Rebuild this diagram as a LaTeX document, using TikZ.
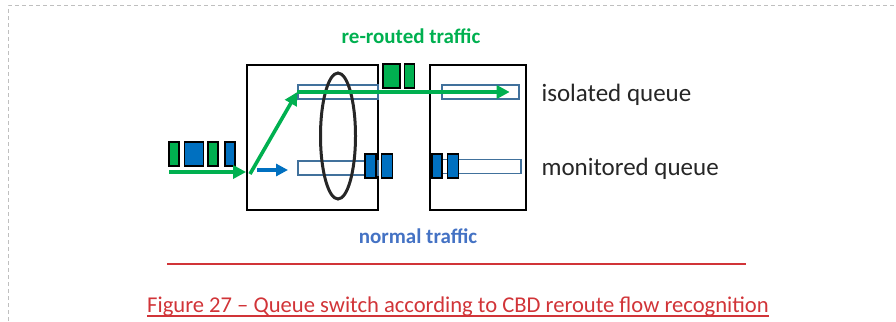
\documentclass[tikz,border=0pt]{standalone}
\usepackage{fontspec}
\setmainfont{Carlito}
\usetikzlibrary{arrows.meta,positioning,shapes.geometric}
\definecolor{grn}{RGB}{0,176,80}
\definecolor{blu}{RGB}{0,112,192}
\definecolor{qblue}{RGB}{65,113,156}
\definecolor{tblue}{RGB}{68,114,196}
\definecolor{capred}{RGB}{209,52,56}
\begin{document}
\begin{tikzpicture}[x=1pt,y=-1pt,
  swbox/.style={draw,line width=1.8pt,minimum height=145,inner sep=0},
  queue/.style={draw=qblue,fill=white,line width=1.4pt,minimum height=14,inner sep=0},
  pkt/.style={draw,line width=1.6pt,minimum height=24,inner sep=0},
  gpkt/.style={pkt,fill=grn,minimum width=10},
  bpkt/.style={pkt,fill=blu,minimum width=11},
  gflow/.style={-{Triangle[length=13pt,width=13pt]},line width=3.6pt,grn},
  bflow/.style={-{Triangle[length=12pt,width=12pt]},line width=3.4pt,blu},
  lbl/.style={anchor=base west,text=black!85,font=\fontsize{25}{30}\selectfont},
  node distance=4pt
]
\useasboundingbox (0,0) rectangle (896,321);
\draw[black!25,line width=1pt,dash pattern=on 4pt off 3pt] (8,321) |- (896,6);
\node[swbox,minimum width=131] (sw1) at (312.5,137.5) {};
\node[swbox,minimum width=96] (sw2) at (478,137.5) {};
\node[queue,minimum width=80] (q1) at (338,92) {};
\node[queue,minimum width=80] (q2) at (338,168) {};
\node[queue,minimum width=77] (q3) at (480.5,92) {};
\node[queue,minimum width=79] (q4) at (481.5,166.5) {};
\node[draw=black!85,line width=3pt,ellipse,minimum width=35,minimum height=126,inner sep=0] (sel) at (338,136) {};
\node[gpkt] (i1) at (174,154) {};
\node[bpkt,minimum width=19,right=of i1] (i2) {};
\node[gpkt,right=3pt of i2] (i3) {};
\node[bpkt,minimum width=10,right=5pt of i3] (i4) {};
\node[bpkt] (m1) at (370.5,166) {};
\node[bpkt,right=of m1] (m2) {};
\node[gpkt,minimum width=17] (r1) at (391.5,76) {};
\node[gpkt,right=3pt of r1] (r2) {};
\node[bpkt,minimum width=10] (n1) at (437,166) {};
\node[bpkt,right=of n1] (n2) {};
\coordinate (in0) at (169,172);
\coordinate (fk) at (250,174);
\coordinate (bl0) at (257,170);
\coordinate (bl1) at (288,170);
\draw[gflow] (in0) -- (in0 -| sw1.west);
\draw[gflow] (fk) -- (q1.west);
\draw[gflow,shorten >=10pt] (q1.west) -- (q3.east);
\draw[bflow] (bl0) -- (bl1);
\node[text=grn,font=\bfseries\fontsize{21}{25}\selectfont] (rer) at (411,36) {re-routed traffic};
\node[text=tblue,font=\bfseries\fontsize{21}{25}\selectfont] (nor) at (418,236) {normal traffic};
\node[lbl] (iso) at (538,101) {isolated queue};
\node[lbl] (mon) at (538,175) {monitored queue};
\coordinate (rl0) at (167,264);
\coordinate (rl1) at (746,264);
\draw[capred,line width=2pt] (rl0) -- (rl1);
\node[anchor=base west,text=capred,font=\fontsize{22.6}{27}\selectfont,inner sep=0] (cap) at (147,312) {Figure 27 – Queue switch according to CBD reroute flow recognition};
\draw[capred,line width=1.2pt] ([yshift=-4pt]cap.base west) -- ([yshift=-4pt]cap.base east);
\end{tikzpicture}
\end{document}
